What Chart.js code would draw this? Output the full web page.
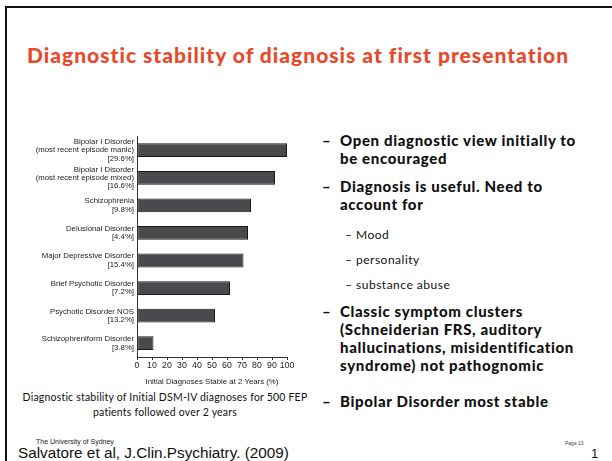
<!DOCTYPE html>
<html>
<head>
<meta charset="utf-8">
<script src="https://cdn.jsdelivr.net/npm/chart.js@4.4.0/dist/chart.umd.min.js"></script>
<style>
  html, body { margin:0; padding:0; background:#fff; }
  body { width:612px; height:461px; position:relative; overflow:hidden; font-family:"Lato", sans-serif; }
  .abs { position:absolute; white-space:nowrap; }
  #frameTop { position:absolute; left:5px; top:6px; width:607px; height:2px; background:#111; }
  #frameLeft { position:absolute; left:5px; top:6px; width:2px; height:455px; background:#111; }
  #title { left:27px; top:42px; font-size:21px; font-weight:900; color:#E8492A; letter-spacing:1px; }
  #chartBox { position:absolute; left:20px; top:125px; width:280px; height:262px; }
  .b1 { font-size:15px; font-weight:900; color:#111; line-height:18px; letter-spacing:0.65px; }
  .b2 { font-size:12px; color:#111; letter-spacing:0.5px; }
  #caption { left:15px; top:390px; width:300px; text-align:center; font-size:10.5px; color:#111; line-height:15px; letter-spacing:0.2px; }
</style>
</head>
<body>
<div id="frameTop"></div>
<div id="frameLeft"></div>
<div id="title" class="abs">Diagnostic stability of diagnosis at first presentation</div>

<div id="chartBox"><canvas id="c" width="280" height="262"></canvas></div>

<div class="abs b1" style="left:322px;top:131px;">–</div>
<div class="abs b1" style="left:340px;top:131px;">Open diagnostic view initially to<br>be encouraged</div>
<div class="abs b1" style="left:322px;top:177px;">–</div>
<div class="abs b1" style="left:340px;top:177px;">Diagnosis is useful. Need to<br>account for</div>
<div class="abs b2" style="left:345px;top:227px;">– Mood</div>
<div class="abs b2" style="left:345px;top:252px;">– personality</div>
<div class="abs b2" style="left:345px;top:277px;">– substance abuse</div>
<div class="abs b1" style="left:322px;top:302px;">–</div>
<div class="abs b1" style="left:340px;top:302px;">Classic symptom clusters<br>(Schneiderian FRS, auditory<br>hallucinations, misidentification<br>syndrome) not pathognomic</div>
<div class="abs b1" style="left:322px;top:392px;">–</div>
<div class="abs b1" style="left:340px;top:392px;">Bipolar Disorder most stable</div>

<div id="caption" class="abs">Diagnostic stability of Initial DSM-IV diagnoses for 500 FEP<br>patients followed over 2 years</div>

<div class="abs" style="left:36px;top:438px;font-family:'Liberation Sans',Arial,sans-serif;font-size:7px;color:#222;">The University of Sydney</div>
<div class="abs" style="left:18px;top:444px;font-family:'Liberation Sans',Arial,sans-serif;font-size:15.3px;color:#111;">Salvatore et al, J.Clin.Psychiatry. (2009)</div>
<div class="abs" style="left:565px;top:440px;font-family:'Liberation Sans',Arial,sans-serif;font-size:5px;color:#444;">Page 13</div>
<div class="abs" style="left:591px;top:446px;font-family:'Liberation Sans',Arial,sans-serif;font-size:13px;color:#111;">1</div>

<script>
const categories = [
  ["Bipolar I Disorder", "(most recent episode manic)", "[29.6%]"],
  ["Bipolar I Disorder", "(most recent episode mixed)", "[16.6%]"],
  ["Schizophrenia", "[9.8%]"],
  ["Delusional Disorder", "[4.4%]"],
  ["Major Depressive Disorder", "[15.4%]"],
  ["Brief Psychotic Disorder", "[7.2%]"],
  ["Psychotic Disorder NOS", "[13.2%]"],
  ["Schizophreniform Disorder", "[3.8%]"]
];
const stableValues = [100, 92, 76, 74, 71, 62, 52, 11];
const xTicks = [0, 10, 20, 30, 40, 50, 60, 70, 80, 90, 100];
const xAxisTitle = "Initial Diagnoses Stable at 2 Years (%)";

new Chart(document.getElementById('c'), {
  type: 'bar',
  data: {
    labels: categories,
    datasets: [{
      data: stableValues,
      backgroundColor: '#4a4a4c',
      borderColor: '#1a1a1a',
      borderWidth: 1,
      borderSkipped: false,
      barPercentage: 0.5,
      categoryPercentage: 1.0
    }]
  },
  options: {
    indexAxis: 'y',
    responsive: false,
    animation: false,
    devicePixelRatio: 1,
    layout: { padding: { top: 6, right: 13, bottom: 0, left: 0 } },
    plugins: { legend: { display: false }, tooltip: { enabled: false } },
    scales: {
      x: {
        min: 0, max: 100,
        afterBuildTicks: (s) => { s.ticks = xTicks.map(v => ({ value: v })); },
        afterFit: (s) => { s.height = 30; },
        grid: { drawOnChartArea: false, drawTicks: true, tickLength: 3, color: '#333' },
        border: { display: true, color: '#333', width: 1 },
        ticks: { color: '#222', font: { family: 'Liberation Sans', size: 8.8 }, padding: 0, maxRotation: 0, autoSkip: false },
        title: { display: true, text: xAxisTitle, color: '#222', font: { family: 'Liberation Sans', size: 7.8 }, padding: { top: 1, bottom: 0 } }
      },
      y: {
        afterFit: (s) => { s.width = 117; },
        grid: { display: false, drawTicks: false },
        border: { display: true, color: '#333', width: 1 },
        ticks: { color: '#222', font: { family: 'Liberation Sans', size: 7.8, lineHeight: 1.08 }, padding: 3, autoSkip: false, crossAlign: 'near' }
      }
    }
  }
});
</script>
</body>
</html>
